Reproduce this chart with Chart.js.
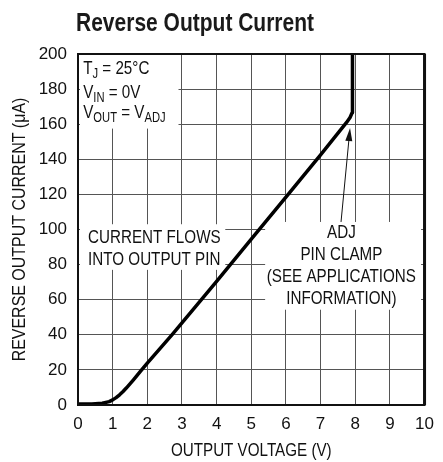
<!DOCTYPE html>
<html>
<head>
<meta charset="utf-8">
<script src="https://cdn.jsdelivr.net/npm/chart.js@4.4.1/dist/chart.umd.min.js"></script>
<style>
  html, body { margin: 0; padding: 0; background: #fff; }
  #wrap { width: 443px; height: 462px; }
</style>
</head>
<body>
<div id="wrap"><canvas id="chart" width="443" height="462"></canvas></div>
<script>
// reverse output current vs output voltage
const voltage = [0, 0.4, 0.7, 0.9, 1.0, 1.1, 1.2, 1.3, 1.4, 1.5, 1.6, 1.7, 1.8, 2.0, 2.71, 3, 4, 5, 6, 7, 7.75, 7.85, 7.91, 7.92, 7.92];
const current = [0.5, 0.6, 1, 1.9, 2.9, 4.2, 5.8, 7.7, 9.8, 12, 14.3, 16.7, 19.1, 23.9, 40, 46.8, 70.5, 94.5, 118.5, 142.5, 161, 163.8, 166.5, 170, 200];
const xTicks = [0, 1, 2, 3, 4, 5, 6, 7, 8, 9, 10];
const yTicks = [0, 20, 40, 60, 80, 100, 120, 140, 160, 180, 200];

const FONT = "'Liberation Sans', Arial, sans-serif";
const SQ = 0.8; // horizontal squeeze to mimic a condensed face

// text with optional subscripts: parts = [[text, sub], ...], squeezed horizontally
function drawText(ctx, parts, x, y, size, align, bold, sq){
  const w = bold ? 'bold ' : '';
  let total = 0;
  parts.forEach(p=>{
    ctx.font = w + size + 'px ' + FONT; total += ctx.measureText(p[0]).width;
    if(p[1]){ ctx.font = w + Math.round(size*0.75) + 'px ' + FONT; total += ctx.measureText(p[1]).width; }
  });
  ctx.save();
  ctx.translate(x, y);
  ctx.scale(sq || SQ, 1);
  let cx = align === 'center' ? -total/2 : 0;
  ctx.textAlign = 'left';
  parts.forEach(p=>{
    ctx.font = w + size + 'px ' + FONT;
    ctx.fillText(p[0], cx, 0);
    cx += ctx.measureText(p[0]).width;
    if(p[1]){
      ctx.font = w + Math.round(size*0.75) + 'px ' + FONT;
      ctx.fillText(p[1], cx, size*0.3);
      cx += ctx.measureText(p[1]).width;
    }
  });
  ctx.restore();
}

const notes = {
  id: 'notes',
  beforeDatasetsDraw(chart){
    const {ctx, scales:{x, y}, chartArea:a} = chart;
    ctx.save();
    ctx.fillStyle = '#fff';
    // white patches behind the labels (grid is hidden there)
    ctx.fillRect(a.left+2, a.top, x.getPixelForValue(2.9)-a.left-2, y.getPixelForValue(157.5)-a.top);
    ctx.fillRect(a.left+2, y.getPixelForValue(103), x.getPixelForValue(4.25)-a.left-2, y.getPixelForValue(77)-y.getPixelForValue(103));
    ctx.fillRect(x.getPixelForValue(5.4), y.getPixelForValue(104.3), x.getPixelForValue(9.9)-x.getPixelForValue(5.4), y.getPixelForValue(54.3)-y.getPixelForValue(104.3));

    ctx.fillStyle = '#111';
    ctx.textBaseline = 'middle';
    const lx = x.getPixelForValue(0.15);
    drawText(ctx, [['T','J'],[' = 25\u00B0C']], lx, y.getPixelForValue(191.5), 19, 'left');
    drawText(ctx, [['V','IN'],[' = 0V']], lx, y.getPixelForValue(178), 19, 'left');
    drawText(ctx, [['V','OUT'],[' = V','ADJ']], lx, y.getPixelForValue(166.5), 19, 'left');

    const cx = x.getPixelForValue(0.29);
    drawText(ctx, [['CURRENT FLOWS']], cx, y.getPixelForValue(95.2), 19, 'left');
    drawText(ctx, [['INTO OUTPUT PIN']], cx, y.getPixelForValue(82.6), 19, 'left');

    const ax = x.getPixelForValue(7.6);
    drawText(ctx, [['ADJ']], ax, y.getPixelForValue(98), 19, 'center');
    drawText(ctx, [['PIN CLAMP']], ax, y.getPixelForValue(85.5), 19, 'center');
    drawText(ctx, [['(SEE APPLICATIONS']], ax, y.getPixelForValue(72.9), 19, 'center');
    drawText(ctx, [['INFORMATION)']], ax, y.getPixelForValue(60.4), 19, 'center');
    ctx.restore();
  },
  afterDatasetsDraw(chart){
    const {ctx, scales:{x, y}, chartArea:a} = chart;
    ctx.save();
    // arrow to the clamp knee
    const x0 = x.getPixelForValue(7.59), y0 = y.getPixelForValue(104.3);
    const x1 = x.getPixelForValue(7.85), y1 = y.getPixelForValue(157.8);
    const ang = Math.atan2(y1-y0, x1-x0);
    ctx.strokeStyle = '#111';
    ctx.lineWidth = 1;
    ctx.beginPath(); ctx.moveTo(x0, y0); ctx.lineTo(x1 - Math.cos(ang)*8, y1 - Math.sin(ang)*8); ctx.stroke();
    ctx.fillStyle = '#111';
    ctx.beginPath();
    ctx.moveTo(x1, y1);
    ctx.lineTo(x1 - Math.cos(ang)*13 + Math.sin(ang)*3.5, y1 - Math.sin(ang)*13 - Math.cos(ang)*3.5);
    ctx.lineTo(x1 - Math.cos(ang)*13 - Math.sin(ang)*3.5, y1 - Math.sin(ang)*13 + Math.cos(ang)*3.5);
    ctx.closePath(); ctx.fill();
    // frame
    ctx.strokeStyle = '#111';
    ctx.lineWidth = 2;
    ctx.strokeRect(a.left, a.top, a.right-a.left, a.bottom-a.top);
    ctx.lineWidth = 3;
    ctx.beginPath(); ctx.moveTo(a.right, a.top); ctx.lineTo(a.right, a.bottom); ctx.stroke();

    // title + axis titles
    ctx.fillStyle = '#1a1a1a';
    ctx.textBaseline = 'alphabetic';
    drawText(ctx, [['Reverse Output Current']], a.left - 2, 31, 25, 'left', true, 0.84);
    ctx.fillStyle = '#111';
    ctx.textBaseline = 'middle';
    drawText(ctx, [['OUTPUT VOLTAGE (V)']], (a.left + a.right)/2, 451, 19, 'center');
    ctx.translate(20, (a.top + a.bottom)/2);
    ctx.rotate(-Math.PI/2);
    drawText(ctx, [['REVERSE OUTPUT CURRENT (\u03BCA)']], 0, 0, 19, 'center', false, 0.84);
    ctx.restore();
  }
};

new Chart(document.getElementById('chart'), {
  type: 'scatter',
  data: {
    datasets: [{
      data: voltage.map((v,i)=>({x:v, y:current[i]})),
      showLine: true,
      borderColor: '#000',
      borderWidth: 3.5,
      pointRadius: 0,
      tension: 0,
      borderJoinStyle: 'round',
      borderCapStyle: 'butt'
    }]
  },
  options: {
    responsive: false,
    animation: false,
    layout: { padding: { top: 54, right: 13, left: 0, bottom: 0 } },
    plugins: { legend: { display: false }, tooltip: { enabled: false } },
    scales: {
      x: {
        type: 'linear', min: 0, max: 10,
        afterBuildTicks: s => { s.ticks = xTicks.map(v=>({value:v})); },
        afterFit: s => { s.height = 57; },
        grid: { color: '#555', lineWidth: 1, drawTicks: false },
        border: { display: false },
        ticks: { color: '#111', font: { family: FONT, size: 17 }, padding: 9, maxRotation: 0 }
      },
      y: {
        type: 'linear', min: 0, max: 200,
        afterBuildTicks: s => { s.ticks = yTicks.map(v=>({value:v})); },
        afterFit: s => { s.width = 78; },
        grid: { color: '#555', lineWidth: 1, drawTicks: false },
        border: { display: false },
        ticks: { color: '#111', font: { family: FONT, size: 17 }, padding: 11 }
      }
    }
  },
  plugins: [notes]
});
</script>
</body>
</html>
